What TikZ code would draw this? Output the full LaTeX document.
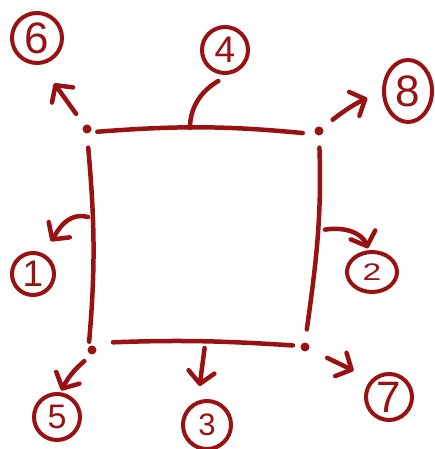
\documentclass[tikz,border=0pt]{standalone}
\usepackage{fontspec}
\setmainfont{Liberation Sans}
\usetikzlibrary{arrows.meta,shapes.geometric}
\definecolor{ink}{RGB}{153,17,17}
\begin{document}
\begin{tikzpicture}[x=1pt,y=1pt,
  inkline/.style={draw=ink, line width=4.5pt, line cap=round, line join=round},
  edge/.style={inkline},
  arr/.style={inkline, -{Straight Barb[length=12pt,width=26pt,round]}},
  dot/.style={circle, fill=ink, inner sep=0pt, minimum size=9pt},
  num/.style={circle, draw=ink, line width=4pt, text=ink, inner sep=0pt},
  numE/.style={ellipse, draw=ink, line width=4pt, text=ink, inner sep=0pt},
]
\useasboundingbox (0,0) rectangle (435,449);

% corner dots
\node[dot] (c1) at (87,320) {};
\node[dot] (c2) at (319,318) {};
\node[dot] (c3) at (305,102) {};
\node[dot] (c4) at (92,99) {};

% circled numbers
\node[num, minimum size=50pt, font=\fontsize{44}{44}\selectfont] (n6) at (37,411) {6};
\node[num, minimum size=46pt, font=\fontsize{37}{37}\selectfont] (n4) at (225,399) {4};
\node[numE, minimum width=48pt, minimum height=62pt, font=\fontsize{44}{44}\selectfont] (n8) at (408,358) {8};
\node[num, minimum size=42pt, font=\fontsize{37}{37}\selectfont] (n1) at (33,175) {1};
\node[numE, minimum width=50pt, minimum height=40pt, font=\fontsize{24}{24}\selectfont] (n2) at (372,177) {\scalebox{1.4}[1]{2}};
\node[num, minimum size=46pt, font=\fontsize{34}{34}\selectfont] (n5) at (57,32) {5};
\node[num, minimum size=48pt, font=\fontsize{31}{31}\selectfont] (n3) at (207,24) {3};
\node[num, minimum size=46pt, font=\fontsize{44}{44}\selectfont] (n7) at (389,52) {7};

% square edges
\draw[edge, shorten <=7pt, shorten >=13pt] (c1.south east) to[bend left=5] (c2.south west);
\draw[edge, shorten <=12pt, shorten >=13pt] (c2.south) to[out=-88,in=82] (c3.north);
\draw[edge, shorten <=14pt, shorten >=5pt] (c1.south) to[out=-85,in=85] (c4.north west);
\draw[edge, shorten <=18pt, shorten >=8pt] ([shift={(3pt,7pt)}]c4.center) to[bend left=3] ([shift={(-4pt,1pt)}]c3.center);

% points on edges where connectors start
\coordinate (e4) at (190,321);
\coordinate (e1) at (88,232);
\coordinate (e2) at (323,219);
\coordinate (e3) at (205,104);

% connectors
\draw[edge, shorten >=12.7pt] (e4) to[out=90,in=210] (n4.-80);
\draw[arr, shorten <=14pt, shorten >=23pt] (c1) -- (n6.-82);
\draw[arr, shorten <=13pt, shorten >=16pt] (c2) to[bend left=8] (n8.182);
\draw[arr, shorten <=20pt, shorten >=19.7pt] (c3) -- (n7.135);
\draw[arr, shorten <=10pt, shorten >=2pt] (c4.south) to[out=220,in=63] (n5.82);
\draw[arr, shorten >=14.5pt] (e1) to[out=165,in=54] (n1.66);
\draw[arr, shorten <=2pt, shorten >=2pt] (e2) to[out=10,in=110] (n2.99);
\draw[arr, shorten <=3pt, shorten >=14.8pt] (e3) -- (n3.111);
\end{tikzpicture}
\end{document}
